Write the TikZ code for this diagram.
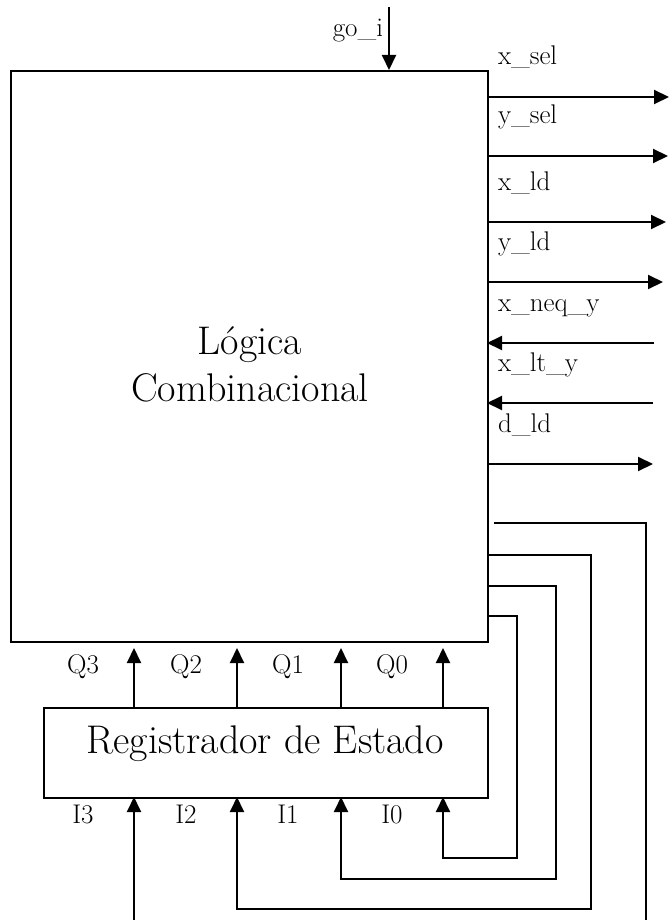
\documentclass[tikz,border=0pt]{standalone}
\usepackage{tikz}
\usetikzlibrary{arrows.meta,positioning,calc}

\begin{document}
\begin{tikzpicture}[x=1pt,y=-1pt,>={Triangle[length=15pt,width=14pt]},line width=2pt,
  every node/.style={font=\fontsize{27}{32}\selectfont,inner sep=0pt},
  blk/.style={draw,fill=white,inner sep=0pt},
  bigtxt/.style={font=\fontsize{40}{47}\selectfont,align=center}]
  \useasboundingbox[fill=white] (0,0) rectangle (671,920);
  % blocks
  \node[blk,anchor=north west,minimum width=477pt,minimum height=571pt] (logic) at (10,70) {};
  \node[bigtxt] (logictxt) at (250,364) {Lógica\\Combinacional};
  \node[blk,anchor=north west,minimum width=444pt,minimum height=90pt] (reg) at (43,707) {};
  \node[bigtxt,anchor=base] (regtxt) at (265,753) {Registrador de Estado};
  % go_i
  \coordinate (go-s) at (389,7);
  \draw[->] (go-s) -- (go-s |- logic.north);
  \node[anchor=base east] (go-lbl) at (384,37) {go\_i};
  % outputs
  \foreach \n/\yy/\xx/\txt in {xsel/97/669/x\_sel, ysel/156/668/y\_sel, xld/222/666/x\_ld, yld/282/663/y\_ld, dld/464/653/d\_ld} {
    \coordinate (\n-s) at (487,\yy);
    \coordinate (\n-e) at (\xx,\yy);
    \draw[->] (\n-s) -- (\n-e);
    \node[anchor=base west] (\n-lbl) at (497,\yy-32) {\txt};
  }
  % inputs
  \foreach \n/\yy/\xx/\txt in {xneqy/343/654/x\_neq\_y, xlty/403/653/x\_lt\_y} {
    \coordinate (\n-s) at (487,\yy);
    \coordinate (\n-e) at (\xx,\yy);
    \draw[->] (\n-e) -- (\n-s);
    \node[anchor=base west] (\n-lbl) at (497,\yy-32) {\txt};
  }
  % state outputs Q and inputs I
  \foreach \n/\xx/\lx in {3/134/83,2/237/186,1/341/288,0/443/392} {
    \coordinate (q\n) at (\xx,707);
    \coordinate (i\n) at (\xx,797);
    \draw[->,shorten >=5pt] (q\n) -- (q\n |- logic.south);
    \node[anchor=base] (lq\n) at (\lx,673) {Q\n};
    \node[anchor=base] (li\n) at (\lx,823) {I\n};
  }
  % feedback
  \coordinate (fb0) at (487,616);
  \coordinate (fb1) at (487,586);
  \coordinate (fb2) at (487,555);
  \coordinate (fb3) at (494,523);
  \draw[->] (fb0) -| (517,858) -| (i0);
  \draw[->] (fb1) -| (556,879) -| (i1);
  \draw[->] (fb2) -| (591,909) -| (i2);
  \draw (fb3) -| (646,922);
  \coordinate (i3-s) at (134,922);
  \draw[->] (i3-s) -- (i3);
\end{tikzpicture}
\end{document}
